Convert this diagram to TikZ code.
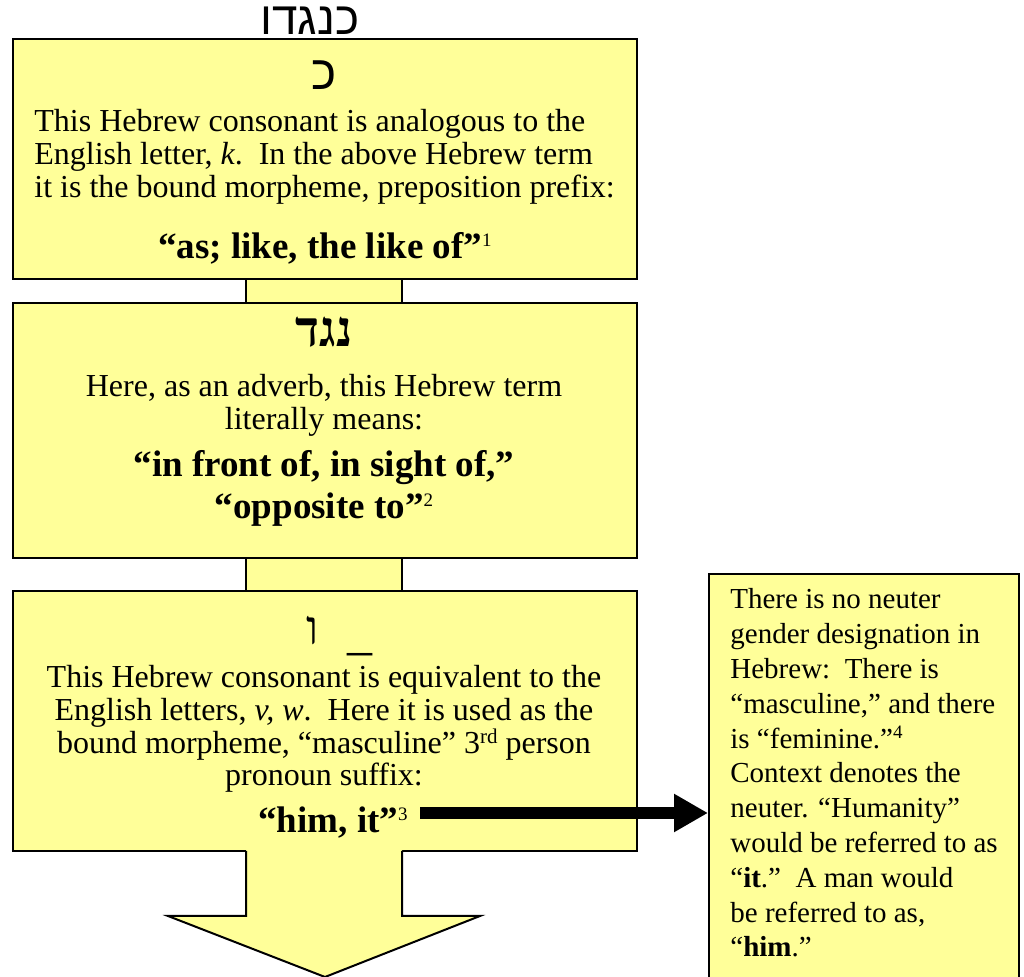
\documentclass[tikz,border=0pt]{standalone}
\usepackage{fontspec}
\setmainfont{Liberation Serif}
\newfontfamily\hebsans[Script=Hebrew]{Liberation Sans}
\newfontfamily\hebserif[Script=Hebrew]{Liberation Serif}
\TeXXeTstate=1
\usetikzlibrary{arrows.meta}
\definecolor{paleyellow}{RGB}{255,255,153}
\newcommand{\fnmark}[1]{\raisebox{0.75ex}{\fontsize{9.5}{10}\selectfont\mdseries#1}}

\begin{document}
\begin{tikzpicture}[x=0.5pt, y=-0.5pt,
	box/.style={draw, line width=1pt, fill=paleyellow, rectangle, inner sep=0pt, anchor=north west},
	body/.style={font=\fontsize{16}{18}\selectfont, inner sep=0pt, text height=11pt, text depth=3pt},
	small/.style={font=\fontsize{14.5}{16.5}\selectfont, inner sep=0pt, text height=10pt, text depth=3pt},
	big/.style={font=\fontsize{18.5}{21}\selectfont\bfseries, inner sep=0pt, text height=13pt, text depth=3pt},
	title/.style={font=\fontsize{23}{25}\selectfont\hebsans, inner sep=0pt, anchor=base},
	letter/.style={font=\fontsize{24}{26}\selectfont\hebsans, inner sep=0pt, anchor=base},
	boldletter/.style={font=\fontsize{25}{27}\selectfont\hebserif\bfseries, inner sep=0pt, anchor=base}]
	\useasboundingbox (0,0) rectangle (1024,977);
	\clip (0,0) rectangle (1024,977);

	% necks between the boxes
	\fill[paleyellow] (246,276) rectangle (402,304);
	\draw[line width=1pt] (246,278) -- (246,302) (402,278) -- (402,302);
	\fill[paleyellow] (246,555) rectangle (402,592);
	\draw[line width=1pt] (246,557) -- (246,590) (402,557) -- (402,590);

	\node[title] (word) at (310,35) {\beginR כנגדו\endR};

	% first box
	\node[box, minimum width=312pt, minimum height=120pt] (kafbox) at (12,38) {};
	\node[letter] (kaf) at (324,90) {\beginR כ\endR};
	\node[body, anchor=base west] (kafa) at (34,132) {This Hebrew consonant is analogous to the};
	\node[body, anchor=base west] (kafb) at (34,165) {English letter, \textit{k}.\ \ In the above Hebrew term};
	\node[body, anchor=base west] (kafc) at (34,198) {it is the bound morpheme, preposition prefix:};
	\node[big, anchor=base] (kafmean) at (325,259) {“as; like, the like of”\fnmark{1}};

	% second box
	\node[box, minimum width=312pt, minimum height=127.5pt] (nagadbox) at (12,302) {};
	\node[boldletter] (nagad) at (324,347) {\beginR נגד\endR};
	\node[body, anchor=base] (nagada) at (324,397) {Here, as an adverb, this Hebrew term};
	\node[body, anchor=base] (nagadb) at (324,430) {literally means:};
	\node[big, anchor=base] (nagadmean) at (324,477) {“in front of, in sight of,”};
	\node[big, anchor=base] (nagadmeanb) at (324,519) {“opposite to”\fnmark{2}};

	% third box
	\node[box, minimum width=312pt, minimum height=130pt] (vavbox) at (12,590) {};
	\node[boldletter, font=\fontsize{24}{26}\selectfont\hebserif] (vav) at (313,645) {\beginR ו\endR};
	\node[font=\fontsize{25}{25}\selectfont, inner sep=0pt, anchor=base] (bar) at (360,650) {\_};
	\node[body, anchor=base] (vava) at (324,688) {This Hebrew consonant is equivalent to the};
	\node[body, anchor=base] (vavb) at (324,721) {English letters, \textit{v, w}.\ \ Here it is used as the};
	\node[body, anchor=base] (vavc) at (324,754) {bound morpheme, “masculine” 3\raisebox{0.7ex}{\fontsize{10.5}{11}\selectfont rd} person};
	\node[body, anchor=base] (vavd) at (324,786) {pronoun suffix:};
	\node[big, anchor=base] (vavmean) at (333,833) {“him, it”\fnmark{3}};

	% big arrow out of the third box
	\fill[paleyellow] (246,848) -- (246,916) -- (168,916) -- (325,977) -- (480,916) -- (402,916) -- (402,848) -- cycle;
	\draw[line width=1pt, line join=miter] (246,851) -- (246,916) -- (168,916) -- (325,977) -- (480,916) -- (402,916) -- (402,851);

	% side note
	\node[box, minimum width=155pt, minimum height=208.5pt] (note) at (708,573) {};
	\foreach \txt [count=\i] in {There is no neuter, gender designation in, Hebrew:\ \ There is,
		{“masculine,” and there}, is “feminine.”\fnmark{4}, Context denotes the, neuter. “Humanity”,
		would be referred to as, “\textbf{it}.”\ \ A man would, {be referred to as,}, “\textbf{him}.”}
		\node[small, anchor=base west] (note\i) at (730,{609+34.8*(\i-1)}) {\txt};

	\coordinate (armstart) at (420,813);
	\draw[line width=6pt, -{Triangle[length=17pt, width=18pt]}] (armstart) -- (armstart -| note.west);
\end{tikzpicture}
\end{document}
